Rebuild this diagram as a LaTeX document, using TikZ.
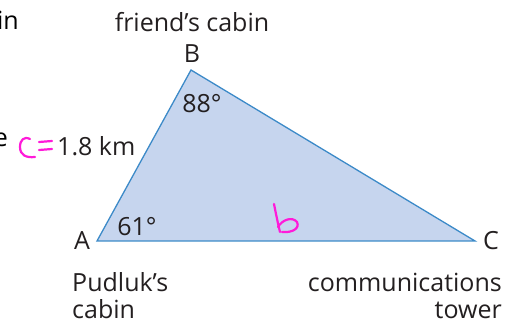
\documentclass[tikz,border=0pt]{standalone}
\usepackage{fontspec}
\setmainfont{Open Sans}
\begin{document}
\begin{tikzpicture}[x=1pt,y=-1pt,
  txt/.style={text=textdark,font=\fontsize{25}{27}\selectfont,inner sep=0pt},
  ink/.style={draw=pinkink,line width=2.2pt,line cap=round,line join=round},
  tri/.style={draw=triblue,fill=trifill,line width=1.3pt,line join=miter}]
\definecolor{textdark}{HTML}{231F20}
\definecolor{pinkink}{HTML}{FF1AD9}
\definecolor{triblue}{HTML}{3C8AC8}
\definecolor{trifill}{HTML}{C6D5EE}
\useasboundingbox (0,0) rectangle (517,323);
\coordinate (A) at (97,241);
\coordinate (B) at (191,70);
\coordinate (C) at (475,241);
\draw[tri] (A) -- (B) -- (C) -- cycle;
% cut-off texts at the left edge
\node[txt,anchor=base east,text=black] (cutin) at (19,30) {in};
\node[txt,anchor=base east,text=black] (cute) at (8,147) {e};
% labels
\node[txt,anchor=base] (friend) at (192,32) {friend’s cabin};
\node[txt,anchor=base] (lB) at (192,63) {B};
\node[txt,anchor=base] (a88) at (202,113) {88°};
\node[txt,anchor=base west] (len) at (57,156) {1.8 km};
\node[txt,anchor=base] (a61) at (137,236) {61°};
\node[txt,anchor=base] (lA) at (82,250) {A};
\node[txt,anchor=base] (lC) at (491,250) {C};
\node[txt,anchor=base west] (pud) at (72,291) {Pudluk’s};
\node[txt,anchor=base west] (pud2) at (72,318) {cabin};
\node[txt,anchor=base east] (comm) at (502,291) {communications};
\node[txt,anchor=base east] (tow) at (502,318) {tower};
% handwritten pink marks
\draw[ink] (30,139) .. controls (24,136) and (20,140) .. (20,147) .. controls (20,155) and (26,158) .. (35,157);
\draw[ink] (39,142) -- (52,141);
\draw[ink] (39,150) -- (52,149);
\draw[ink] (274,204) .. controls (276,214) and (278,224) .. (280,232);
\draw[ink] (278,227) .. controls (282,220) and (292,216) .. (297,222) .. controls (300,228) and (293,233) .. (282,232);
\end{tikzpicture}
\end{document}
